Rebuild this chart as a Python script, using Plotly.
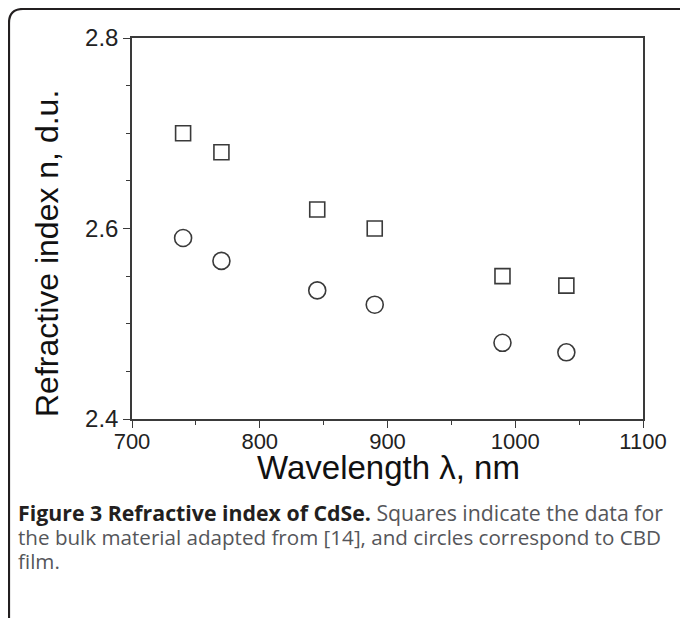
import plotly.graph_objects as go

# Data
wavelength_bulk = [740, 770, 845, 890, 990, 1040]
n_bulk = [2.70, 2.68, 2.62, 2.60, 2.55, 2.54]
wavelength_film = [740, 770, 845, 890, 990, 1040]
n_film = [2.59, 2.566, 2.535, 2.52, 2.48, 2.47]

x_title = "Wavelength λ, nm"
y_title = "Refractive index n, d.u."
caption_lines = [
    "<b>Figure 3 Refractive index of CdSe.</b> <span style='color:#55565a'>Squares indicate the data for</span>",
    "<span style='color:#55565a'>the bulk material adapted from [14], and circles correspond to CBD</span>",
    "<span style='color:#55565a'>film.</span>",
]
caption_sizes = [21.3, 20.6, 20.6]

W, H = 688, 618
OFF = 8  # page body margin: reference pixel p is drawn at figure pixel p - OFF
L, R, T, B = 132 - OFF, 643 - OFF, 38 - OFF, 419 - OFF  # plot area in figure pixels


def px(x):
    return (x - OFF - L) / (R - L)


def py(y):
    return (B - (y - OFF)) / (B - T)


fig = go.Figure()
fig.add_trace(go.Scatter(
    x=wavelength_bulk, y=n_bulk, mode="markers", name="bulk",
    marker=dict(symbol="square-open", size=15, color="#3a3a3a", line=dict(width=1.6)),
))
fig.add_trace(go.Scatter(
    x=wavelength_film, y=n_film, mode="markers", name="CBD film",
    marker=dict(symbol="circle-open", size=17, color="#3a3a3a", line=dict(width=1.6)),
))

axis_common = dict(
    showline=True, mirror=True, linecolor="#3a3a3a", linewidth=1.5,
    ticks="outside", tickcolor="#3a3a3a", tickwidth=1.2, ticklen=7,
    showgrid=False, zeroline=False,
)

fig.update_xaxes(range=[700, 1100], tick0=700, dtick=100, ticklabelstandoff=-5,
                 tickfont=dict(family="Liberation Sans, Arial, sans-serif", size=22, color="#222"),
                 minor=dict(dtick=50, ticks="outside", ticklen=4, tickcolor="#3a3a3a"),
                 **axis_common)
fig.update_yaxes(range=[2.4, 2.8], tick0=2.4, dtick=0.2, tickformat=".1f",
                 tickfont=dict(family="Liberation Sans, Arial, sans-serif", size=24, color="#222"),
                 minor=dict(dtick=0.05, ticks="outside", ticklen=4, tickcolor="#3a3a3a"),
                 **axis_common)

annotations = [
    dict(text=x_title, x=px(388), y=py(467), xref="paper", yref="paper",
         showarrow=False, xanchor="center", yanchor="middle",
         font=dict(family="Liberation Sans, Arial, sans-serif", size=33, color="#111")),
    dict(text=y_title, x=px(47), y=py(254), xref="paper", yref="paper",
         showarrow=False, xanchor="center", yanchor="middle", textangle=-90,
         font=dict(family="Liberation Sans, Arial, sans-serif", size=32, color="#111")),
]
for i, line in enumerate(caption_lines):
    annotations.append(dict(
        text=line, x=px(16), y=py(512 + 24.5 * i), xref="paper", yref="paper",
        showarrow=False, xanchor="left", yanchor="middle", align="left",
        font=dict(family="Open Sans, sans-serif", size=caption_sizes[i], color="#231f20"),
    ))

# Rounded outer frame (top and left sides visible)
r = 14
x0, y0 = 9, 9
frame_path = (
    f"M {px(W + 20)},{py(y0)} L {px(x0 + r)},{py(y0)} "
    f"Q {px(x0)},{py(y0)} {px(x0)},{py(y0 + r)} "
    f"L {px(x0)},{py(620)} Q {px(x0)},{py(625)} {px(x0 + 4)},{py(627)}"
)

fig.update_layout(
    width=W, height=H,
    margin=dict(l=L, r=W - R, t=T, b=H - B),
    paper_bgcolor="white", plot_bgcolor="white",
    showlegend=False,
    annotations=annotations,
    shapes=[dict(type="path", path=frame_path, xref="paper", yref="paper",
                 line=dict(color="#231f20", width=2.2))],
)

fig.write_html("out.html")
